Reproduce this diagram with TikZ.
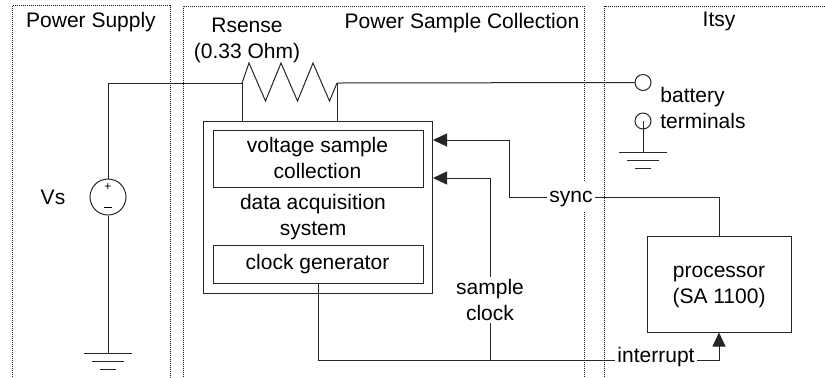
\documentclass[tikz,border=0pt]{standalone}
\usepackage{fontspec}
\setmainfont{Liberation Sans}
\usetikzlibrary{arrows.meta,positioning,calc}

\begin{document}
\begin{tikzpicture}[
    x=0.5pt, y=-0.5pt,
    font=\fontsize{10.5}{13}\selectfont,
    >={Triangle[length=7pt,width=6.5pt]},
    wire/.style={draw=black!85, line width=0.5pt},
    region/.style={draw=black!90, line width=0.5pt, dash pattern=on 0.5pt off 0.5pt},
    box/.style={rectangle, draw=black!85, line width=0.5pt, inner sep=0pt},
    terminal/.style={circle, draw=black!85, line width=0.5pt, inner sep=0pt, minimum size=8pt},
    label/.style={align=center, inner sep=1pt}
]
\useasboundingbox (0,0) rectangle (825,377);

% Regions
\draw[region] (12.5,377) -- (12.5,5.5) -- (170,5.5) -- (170,377);
\draw[region] (183,377) -- (183,6) -- (584,6) -- (584,182);
\draw[region] (584,212) -- (584,377);
\draw[region] (825,6) -- (604.5,6) -- (604.5,377);

\node[label] (supply_title) at (91,22) {Power Supply};
\node[label] (collect_title) at (462,23) {Power Sample Collection};
\node[label] (itsy_title) at (719,21) {Itsy};

% Data acquisition boxes
\node[box, minimum width=114.5pt, minimum height=86pt] (daq) at (318,207) {};
\node[box, minimum width=105pt, minimum height=28.5pt] (volt) at (318,159) {};
\node[box, minimum width=105pt, minimum height=19pt] (clkgen) at (318,264) {};
\node[label] (volt_text) at (317.5,158) {voltage sample\\collection};
\node[label] (daq_text) at (313,217) {data acquisition\\system};
\node[label] (clk_text) at (317.5,264) {clock generator};

% Supply and terminals
\node[circle, draw=black!85, line width=0.5pt, inner sep=0pt, minimum size=18pt] (vsrc) at (108,197) {};
\node[inner sep=0pt, font=\fontsize{6}{6}\selectfont] (vplus) at (108,187) {+};
\node[inner sep=0pt, font=\fontsize{6}{6}\selectfont] (vminus) at (108,209) {\rule[0.6ex]{4pt}{0.4pt}};
\node[label] (vs_label) at (53,197) {Vs};
\node[terminal] (term_top) at (643,82.5) {};
\node[terminal] (term_bot) at (643,121) {};
\node[label, align=left, anchor=west] (batt_label) at (658,108) {battery\\terminals};

% Resistor
\node[label] (rsense_label) at (247,40) {Rsense\\(0.33 Ohm)};
\coordinate (rs_left) at (242,83);
\coordinate (rs_right) at (337,83);
\coordinate (gnd_left) at (108,353);
\coordinate (gnd_right) at (643,152);
\draw[wire] (rs_left) -- (249,63) -- (265.5,101) -- (281,63) -- (297.5,101) -- (313,63) -- (329.5,101) -- (rs_right);

% Processor and signal labels
\node[box, minimum width=72pt, minimum height=48pt] (cpu) at (719,284) {};
\node[label] (cpu_text) at (719,287) {processor\\(SA 1100)};
\node[label] (sync) at (571,199) {sync};
\node[label] (sclk) at (490,300) {sample\\clock};
\node[label] (intr) at (656,357) {interrupt};

% Connections
\coordinate (volt_in) at (daq.east |- 0,140);
\coordinate (clk_in) at (daq.east |- 0,178);
\coordinate (clk_corner) at (318,360);
\coordinate (sclk_join) at (490,360);
\coordinate (sync_level) at (509,197);

\draw[wire] (vsrc.north) -- (108,83) -- (rs_left);
\draw[wire] (rs_right) -- (term_top.west);
\draw[wire] (rs_left) -- (rs_left |- daq.north);
\draw[wire] (rs_right) -- (rs_right |- daq.north);
\draw[wire] (vsrc.south) -- (gnd_left);
\draw[wire] (term_bot.center) -- (gnd_right);

\draw[wire] ($(gnd_left)+(-24,0)$) -- ($(gnd_left)+(24,0)$);
\draw[wire] ($(gnd_left)+(-16,8)$) -- ($(gnd_left)+(16,8)$);
\draw[wire] ($(gnd_left)+(-8,16)$) -- ($(gnd_left)+(8,16)$);
\draw[wire] ($(gnd_right)+(-24,0)$) -- ($(gnd_right)+(24,0)$);
\draw[wire] ($(gnd_right)+(-16,8)$) -- ($(gnd_right)+(16,8)$);
\draw[wire] ($(gnd_right)+(-8,16)$) -- ($(gnd_right)+(8,16)$);

\draw[wire, ->] (sync.west |- sync_level) -- (sync_level) -- (509,140) -- (volt_in);
\draw[wire] (sync.east |- sync_level) -- (719,197) -- (cpu.north);
\draw[wire, ->] (sclk.north) -- (490,178) -- (clk_in);
\draw[wire] (sclk.south) -- (sclk_join);
\draw[wire] (clkgen.south -| clk_corner) -- (clk_corner) -- (intr.west |- clk_corner);
\draw[wire, ->] (intr.east |- clk_corner) -- (719,360) -- (cpu.south);

\end{tikzpicture}
\end{document}
